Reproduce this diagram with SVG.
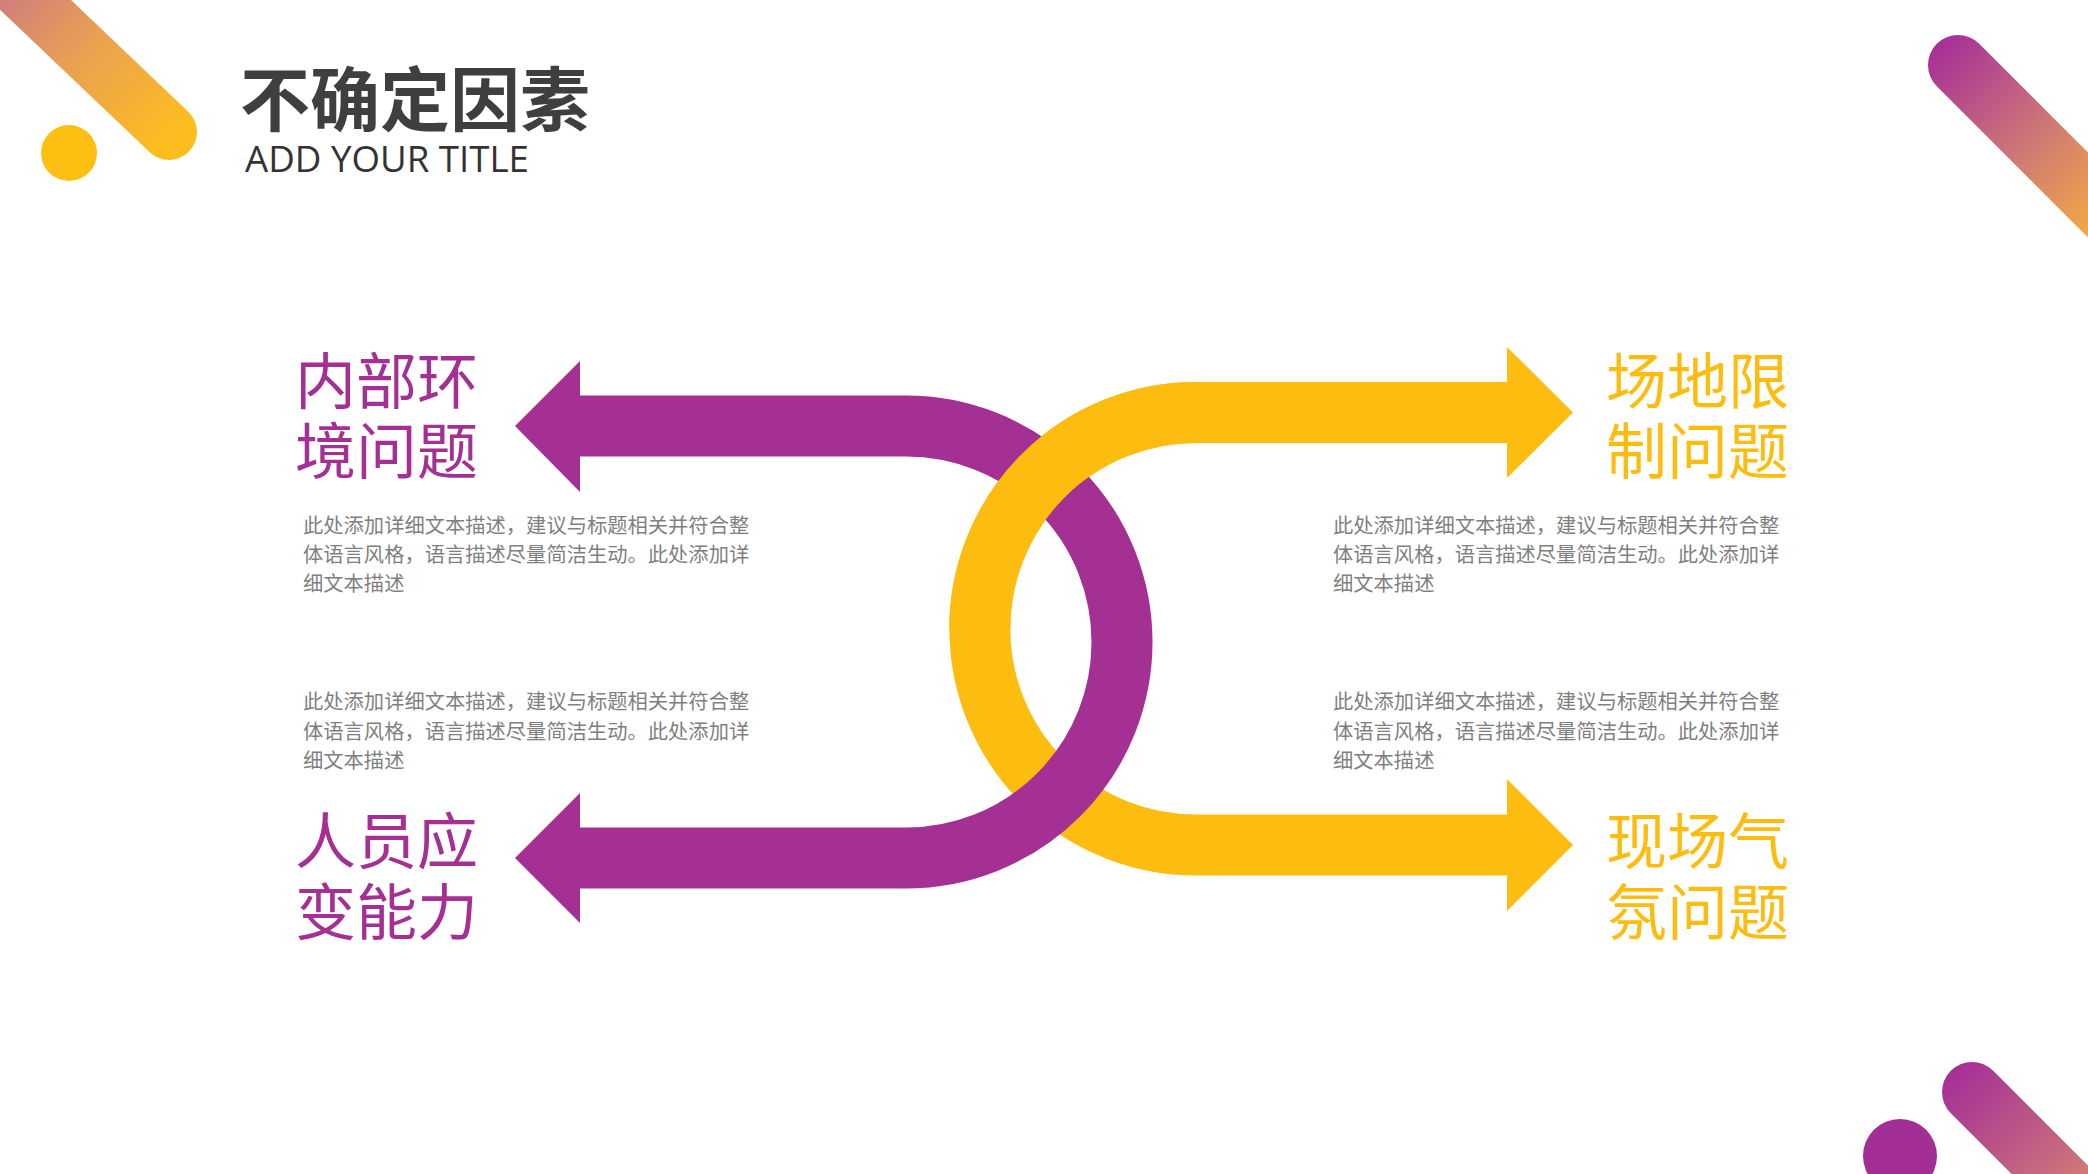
<svg xmlns="http://www.w3.org/2000/svg" width="2088" height="1174" viewBox="0 0 2088 1174">
  <defs>
    <linearGradient id="gTL" gradientUnits="userSpaceOnUse" x1="-10" y1="-40" x2="175" y2="140">
      <stop offset="0" stop-color="#C6728C"/>
      <stop offset="0.5" stop-color="#E9A052"/>
      <stop offset="1" stop-color="#FCBE1E"/>
    </linearGradient>
    <linearGradient id="gTR" gradientUnits="userSpaceOnUse" x1="1935" y1="42" x2="2110" y2="217">
      <stop offset="0" stop-color="#A52E99"/>
      <stop offset="0.55" stop-color="#CD7777"/>
      <stop offset="1" stop-color="#F2AA44"/>
    </linearGradient>
    <linearGradient id="gBR" gradientUnits="userSpaceOnUse" x1="1950" y1="1070" x2="2110" y2="1230">
      <stop offset="0" stop-color="#A52E99"/>
      <stop offset="0.6" stop-color="#C56A7E"/>
      <stop offset="1" stop-color="#E3946A"/>
    </linearGradient>
    <style>
      .title { font-family: "Liberation Sans", "Noto Sans CJK SC", sans-serif; font-weight: 700; font-size: 70px; fill: #3F3F3F; }
      .sub { font-family: "Open Sans", "Liberation Sans", sans-serif; font-weight: 400; font-size: 37px; fill: #333333; }
      .head { font-family: "Liberation Sans", "Noto Sans CJK SC", sans-serif; font-size: 61px; }
      .purple { fill: #A43094; }
      .yellow { fill: #FCBD10; }
      .desc { font-family: "Noto Sans CJK SC", sans-serif; font-size: 20.3px; fill: #7F7F7F; }
      .pband { fill: none; stroke: #A43094; stroke-width: 61; }
      .yband { fill: none; stroke: #FCBD10; stroke-width: 61; }
    </style>
  </defs>

  <rect width="2088" height="1174" fill="#FFFFFF"/>

  <g id="decorations">
    <line x1="-20" y1="-48" x2="169" y2="132" stroke="url(#gTL)" stroke-width="56" stroke-linecap="round"/>
    <circle cx="69" cy="153" r="28" fill="#FDBF12"/>
    <line x1="1958" y1="65" x2="2210" y2="317" stroke="url(#gTR)" stroke-width="60" stroke-linecap="round"/>
    <line x1="1972" y1="1092" x2="2150" y2="1270" stroke="url(#gBR)" stroke-width="60" stroke-linecap="round"/>
    <circle cx="1900" cy="1156" r="37" fill="#A32E96"/>
  </g>

  <g id="title">
    <text class="title" x="240" y="126">不确定因素</text>
    <text class="sub" x="245" y="172" textLength="284" lengthAdjust="spacingAndGlyphs">ADD YOUR TITLE</text>
  </g>

  <g id="connectors">
    <path id="yellow-band" class="yband" d="M 1507 412.5 H 1196 A 216.25 216.25 0 0 0 1196 845 H 1507"/>
    <path id="purple-band" class="pband" d="M 580 426 H 906 A 216 216 0 0 1 906 858 H 580"/>
    <path id="yellow-over" class="yband" d="M 1200 412.5 H 1196 A 216.25 216.25 0 0 0 979.75 628.75"/>
    <polygon class="purple" points="580,361 515,426 580,492"/>
    <polygon class="purple" points="580,793 515,858 580,923"/>
    <polygon class="yellow" points="1507,347 1573,412.5 1507,478"/>
    <polygon class="yellow" points="1507,779 1573,845 1507,911"/>
  </g>

  <g id="node-internal">
    <text class="head purple" x="295" y="404">内部环<tspan x="295" y="474">境问题</tspan></text>
    <text class="desc" x="303" y="533">此处添加详细文本描述，建议与标题相关并符合整<tspan x="303" y="562">体语言风格，语言描述尽量简洁生动。此处添加详</tspan><tspan x="303" y="591">细文本描述</tspan></text>
  </g>

  <g id="node-staff">
    <text class="desc" x="303" y="709">此处添加详细文本描述，建议与标题相关并符合整<tspan x="303" y="739">体语言风格，语言描述尽量简洁生动。此处添加详</tspan><tspan x="303" y="768">细文本描述</tspan></text>
    <text class="head purple" x="295" y="864">人员应<tspan x="295" y="935">变能力</tspan></text>
  </g>

  <g id="node-venue">
    <text class="head yellow" x="1606" y="404">场地限<tspan x="1606" y="474">制问题</tspan></text>
    <text class="desc" x="1333" y="533">此处添加详细文本描述，建议与标题相关并符合整<tspan x="1333" y="562">体语言风格，语言描述尽量简洁生动。此处添加详</tspan><tspan x="1333" y="591">细文本描述</tspan></text>
  </g>

  <g id="node-atmosphere">
    <text class="desc" x="1333" y="709">此处添加详细文本描述，建议与标题相关并符合整<tspan x="1333" y="739">体语言风格，语言描述尽量简洁生动。此处添加详</tspan><tspan x="1333" y="768">细文本描述</tspan></text>
    <text class="head yellow" x="1606" y="864">现场气<tspan x="1606" y="935">氛问题</tspan></text>
  </g>
</svg>
